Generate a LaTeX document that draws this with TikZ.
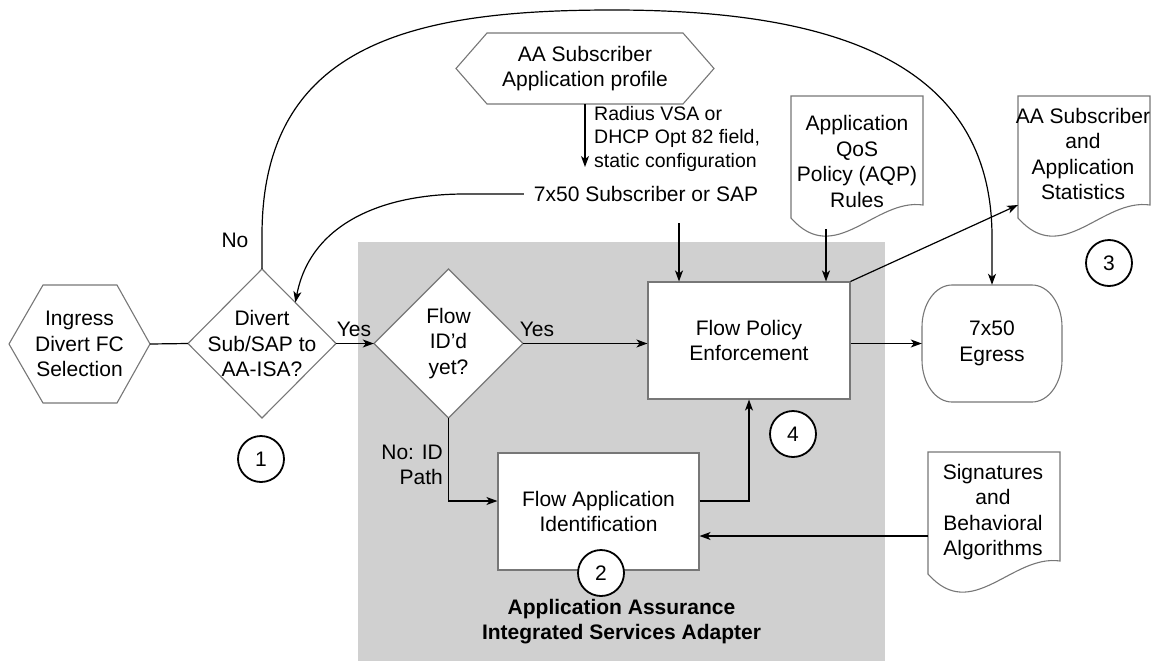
\documentclass[tikz,border=0pt]{standalone}
\usepackage{fontspec}
\setmainfont{Liberation Sans}
\usetikzlibrary{arrows.meta,calc}
\definecolor{isa}{HTML}{D0D0D0}
\definecolor{edge}{HTML}{777777}
\begin{document}
\begin{tikzpicture}[x=1pt,y=-1pt,
  font=\fontsize{21}{25.5}\selectfont,
  shp/.style={draw=edge, line width=1.1pt, fill=white},
  lbl/.style={inner sep=0pt, align=center},
  arr/.style={line width=1.2pt, -{Stealth[length=11pt,width=8pt,inset=3pt]}},
  ln/.style={line width=1.2pt},
  num/.style={circle, draw=black, line width=1.8pt, fill=white, minimum size=46pt, inner sep=0pt},
  docsh/.pic={\draw[shp] (0,0) -- (132,0) -- (132,109) .. controls (84,102) and (44,172) .. (0,122) -- cycle;}
]
\useasboundingbox (0,0) rectangle (1153,661);
\fill[isa] (358,242) rectangle (885,661);

% Ingress hexagon
\draw[shp] (9,344) -- (43,285) -- (117,285) -- (150,344) -- (117,403) -- (43,403) -- cycle;
\node[lbl, minimum width=141pt, minimum height=118pt] (ing) at (79.5,344) {Ingress\\Divert FC\\Selection};

% Divert diamond
\draw[shp] (188,343.5) -- (262,269) -- (336,343.5) -- (262,418) -- cycle;
\node[lbl, minimum width=148pt, minimum height=149pt] (div) at (262,343.5) {Divert\\Sub/SAP to\\AA-ISA?};

% Flow ID'd diamond
\draw[shp] (374,343.5) -- (448.5,269) -- (523,343.5) -- (448.5,418) -- cycle;
\node[lbl, minimum width=149pt, minimum height=149pt] (fid) at (448.5,343.5) {Flow\\ID’d\\yet?};

% boxes
\node[shp, lbl, minimum width=202pt, minimum height=117pt] (fpe) at (749,340.5) {Flow Policy\\Enforcement};
\node[shp, lbl, minimum width=201pt, minimum height=117pt] (fai) at (598.5,511.5) {Flow Application\\Identification};

% egress (rounded with elliptical corners)
\draw[shp] (952,285) -- (1032,285) arc[start angle=90, end angle=0, x radius=30pt, y radius=42pt]
  -- (1062,360) arc[start angle=0, end angle=-90, x radius=30pt, y radius=42pt]
  -- (952,402) arc[start angle=270, end angle=180, x radius=30pt, y radius=42pt]
  -- (922,327) arc[start angle=180, end angle=90, x radius=30pt, y radius=42pt] -- cycle;
\node[lbl, minimum width=140pt, minimum height=117pt] (egr) at (992,343.5) {7x50\\Egress};

% profile hexagon
\draw[shp] (456,68.5) -- (487,33) -- (683,33) -- (714,68.5) -- (683,104) -- (487,104) -- cycle;
\node[lbl, minimum width=258pt, minimum height=71pt] (prof) at (585,68.5) {AA Subscriber\\Application profile};

% documents
\pic at (791,96) {docsh};
\node[lbl] (aqp) at (857,161.5) {Application\\QoS\\Policy (AQP)\\Rules};
\pic at (1018,96) {docsh};
\node[lbl] (stats) at (1083,154) {AA Subscriber\\and\\Application\\Statistics};
\pic at (928,452) {docsh};
\node[lbl] (sig) at (993,512) {Signatures\\and\\Behavioral\\Algorithms};

\coordinate (aqpb) at (826,229);
\coordinate (statsw) at (1018,205);
\coordinate (sigw) at (928,536);
\coordinate (subin) at (585,167);
\coordinate (subout) at (679,223);

% texts
\node[lbl, inner sep=10pt] (sub) at (646,194) {7x50 Subscriber or SAP};
\node[anchor=west, align=left, inner sep=0pt, font=\fontsize{19.5}{23.5}\selectfont] (rad) at (594,138.5) {Radius VSA or\\DHCP Opt 82 field,\\static configuration};
\node[lbl] (no) at (235,240) {No};
\node[lbl] (y1) at (354,329) {Yes};
\node[lbl] (y2) at (537,329) {Yes};
\node[anchor=east, align=right, inner sep=0pt] (noid) at (443,465) {No: ID\\Path};
\node[lbl, font=\fontsize{21}{25}\selectfont\bfseries] (isat) at (621.5,622) {Application Assurance\\Integrated Services Adapter};

% connectors
\draw[arr] (prof.south) -- (subin);
\draw[arr] (sub.west) -- (465,194) .. controls (380,194) and (310,225) .. ($(div.north)!0.45!(div.east)$);
\draw[arr] (subout) -- (subout |- fpe.north);
\draw[arr] (aqpb) -- (aqpb |- fpe.north);
\draw[arr] (fpe.north east) -- (statsw);
\draw[arr] (div.north) -- (262,235) .. controls (262,40) and (420,10) .. (613,10) .. controls (830,10) and (992,60) .. (992,237) -- (egr.north);
\draw[ln] (ing.east) -- (div.west);
\draw[arr] (div.east) -- (fid.west);
\draw[arr] (fid.east) -- (fid.east -| fpe.west);
\draw[arr] (fid.south) |- ([yshift=10.5pt]fai.west);
\draw[arr] ([yshift=10.5pt]fai.east) -| (fpe.south);
\draw[arr] (sigw) -- (sigw -| fai.east);
\draw[arr] (fpe.east |- egr.west) -- (egr.west);

% numbered circles
\node[num] (c1) at (261,459) {1};
\node[num] (c2) at (601,573) {2};
\node[num] (c3) at (1109,263) {3};
\node[num] (c4) at (793,434) {4};
\end{tikzpicture}
\end{document}
